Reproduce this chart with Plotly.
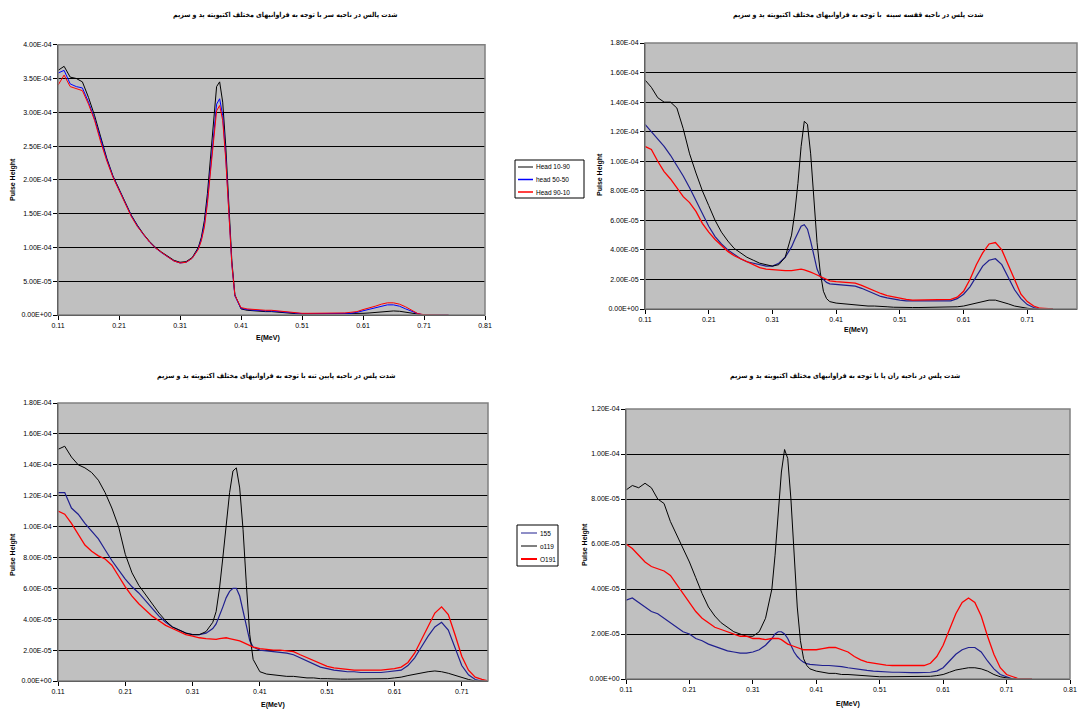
import plotly.graph_objects as go

# Energy axis (MeV)
E = [0.11,0.12,0.13,0.14,0.15,0.16,0.17,0.18,0.19,0.20,
     0.21,0.22,0.23,0.24,0.25,0.26,0.27,0.28,0.29,0.30,
     0.31,0.32,0.33,0.34,0.345,0.35,0.355,0.36,0.365,0.37,
     0.375,0.38,0.385,0.39,0.395,0.40,0.41,0.42,0.43,0.44,
     0.45,0.46,0.47,0.48,0.49,0.50,0.51,0.52,0.53,0.54,
     0.55,0.56,0.57,0.58,0.59,0.60,0.61,0.62,0.63,0.64,
     0.65,0.66,0.67,0.68,0.69,0.70,0.71,0.72,0.73,0.74,0.75]

UNIT = 1e-4  # values below are in units of 1e-4

# Panel 1: head
head_10_90 = [3.62,3.68,3.52,3.50,3.45,3.22,2.95,2.62,2.32,2.06,
              1.86,1.66,1.48,1.33,1.20,1.09,1.00,0.93,0.87,0.81,
              0.78,0.79,0.85,1.00,1.15,1.40,1.80,2.35,2.90,3.38,
              3.45,3.15,2.50,1.60,0.80,0.30,0.09,0.07,0.06,0.06,
              0.05,0.05,0.04,0.03,0.02,0.02,0.015,0.015,0.015,0.015,
              0.015,0.015,0.015,0.015,0.015,0.02,0.025,0.03,0.04,0.05,
              0.055,0.06,0.055,0.04,0.02,0.01,0.0,0.0,0.0,0.0,0.0]
head_50_50 = [3.58,3.62,3.42,3.38,3.36,3.15,2.90,2.58,2.30,2.05,
              1.85,1.65,1.47,1.32,1.19,1.08,0.99,0.92,0.86,0.80,
              0.77,0.78,0.84,0.98,1.12,1.34,1.70,2.20,2.70,3.12,
              3.20,2.95,2.35,1.50,0.75,0.28,0.10,0.08,0.07,0.07,
              0.06,0.06,0.05,0.04,0.03,0.025,0.02,0.02,0.02,0.02,
              0.02,0.02,0.02,0.02,0.025,0.04,0.06,0.08,0.10,0.13,
              0.15,0.15,0.13,0.09,0.05,0.02,0.0,0.0,0.0,0.0,0.0]
head_90_10 = [3.40,3.55,3.38,3.35,3.32,3.12,2.88,2.56,2.28,2.04,
              1.84,1.64,1.46,1.31,1.19,1.08,0.99,0.92,0.86,0.80,
              0.77,0.78,0.84,0.97,1.10,1.30,1.65,2.12,2.60,3.02,
              3.10,2.88,2.30,1.48,0.75,0.29,0.11,0.09,0.08,0.08,
              0.07,0.07,0.06,0.05,0.04,0.03,0.025,0.025,0.025,0.025,
              0.025,0.025,0.025,0.03,0.04,0.05,0.08,0.10,0.13,0.16,
              0.18,0.18,0.16,0.12,0.07,0.02,0.005,0.0,0.0,0.0,0.0]

# Panel 2: chest
chest_155 = [1.25,1.20,1.15,1.10,1.04,0.97,0.90,0.82,0.73,0.64,
             0.56,0.49,0.44,0.40,0.37,0.34,0.32,0.31,0.30,0.29,
             0.29,0.31,0.35,0.42,0.47,0.52,0.56,0.57,0.54,0.46,
             0.36,0.27,0.22,0.20,0.18,0.17,0.165,0.16,0.16,0.155,
             0.14,0.12,0.10,0.085,0.075,0.065,0.06,0.055,0.055,0.05,
             0.05,0.05,0.05,0.05,0.055,0.07,0.10,0.15,0.22,0.29,
             0.33,0.34,0.30,0.22,0.13,0.07,0.03,0.01,0.0,0.0,0.0]
chest_o119 = [1.55,1.50,1.43,1.40,1.40,1.36,1.22,1.05,0.92,0.80,
              0.70,0.60,0.52,0.46,0.41,0.38,0.35,0.33,0.31,0.30,
              0.29,0.30,0.35,0.50,0.65,0.85,1.10,1.27,1.25,1.05,
              0.75,0.45,0.25,0.12,0.07,0.05,0.04,0.035,0.03,0.03,
              0.025,0.02,0.02,0.015,0.015,0.012,0.01,0.01,0.01,0.01,
              0.01,0.01,0.01,0.01,0.012,0.015,0.02,0.03,0.045,0.055,
              0.06,0.06,0.05,0.035,0.02,0.01,0.005,0.0,0.0,0.0,0.0]
chest_O191 = [1.10,1.08,1.00,0.93,0.88,0.82,0.76,0.72,0.66,0.58,
              0.52,0.47,0.43,0.39,0.36,0.34,0.32,0.30,0.28,0.27,
              0.265,0.26,0.26,0.26,0.265,0.27,0.27,0.265,0.26,0.25,
              0.24,0.23,0.22,0.21,0.20,0.19,0.185,0.18,0.18,0.175,
              0.16,0.14,0.12,0.105,0.09,0.08,0.07,0.065,0.06,0.06,
              0.06,0.06,0.06,0.06,0.065,0.08,0.12,0.20,0.30,0.38,
              0.44,0.45,0.40,0.30,0.20,0.10,0.05,0.02,0.005,0.0,0.0]

# Panel 3: lower body
lower_155 = [1.22,1.22,1.12,1.08,1.02,0.97,0.92,0.85,0.78,0.72,
             0.66,0.61,0.57,0.52,0.47,0.42,0.38,0.35,0.33,0.31,
             0.30,0.30,0.31,0.34,0.37,0.42,0.48,0.54,0.58,0.60,
             0.60,0.55,0.45,0.34,0.26,0.22,0.20,0.195,0.19,0.185,
             0.18,0.17,0.15,0.13,0.11,0.09,0.08,0.07,0.065,0.06,
             0.06,0.055,0.055,0.055,0.055,0.06,0.065,0.07,0.10,0.15,
             0.22,0.29,0.35,0.38,0.33,0.22,0.10,0.04,0.01,0.0,0.0]
lower_o119 = [1.50,1.52,1.45,1.40,1.38,1.35,1.30,1.22,1.12,1.00,
              0.82,0.70,0.62,0.56,0.50,0.44,0.39,0.35,0.33,0.31,
              0.30,0.30,0.32,0.38,0.45,0.60,0.80,1.02,1.22,1.36,
              1.38,1.25,0.98,0.62,0.30,0.14,0.06,0.045,0.04,0.035,
              0.03,0.03,0.025,0.02,0.02,0.015,0.015,0.012,0.012,0.012,
              0.012,0.012,0.012,0.012,0.012,0.015,0.02,0.025,0.035,0.045,
              0.055,0.06,0.065,0.06,0.05,0.035,0.02,0.01,0.0,0.0,0.0]
lower_O191 = [1.10,1.08,1.02,0.95,0.88,0.84,0.81,0.79,0.75,0.68,
              0.61,0.55,0.50,0.46,0.42,0.39,0.36,0.34,0.32,0.30,
              0.29,0.28,0.275,0.27,0.27,0.275,0.28,0.28,0.275,0.27,
              0.265,0.26,0.25,0.24,0.23,0.22,0.21,0.205,0.20,0.20,
              0.195,0.19,0.17,0.15,0.13,0.11,0.095,0.085,0.08,0.075,
              0.07,0.07,0.07,0.07,0.07,0.075,0.08,0.09,0.12,0.18,
              0.27,0.36,0.44,0.48,0.43,0.30,0.16,0.07,0.025,0.01,0.0]

# Panel 4: thigh
thigh_155 = [0.35,0.36,0.34,0.32,0.30,0.29,0.27,0.25,0.23,0.21,
             0.20,0.18,0.17,0.155,0.145,0.135,0.125,0.12,0.115,0.115,
             0.12,0.13,0.15,0.18,0.20,0.21,0.21,0.20,0.18,0.15,
             0.12,0.10,0.085,0.075,0.068,0.065,0.062,0.06,0.06,0.058,
             0.055,0.05,0.045,0.04,0.038,0.035,0.033,0.03,0.03,0.03,
             0.028,0.028,0.028,0.028,0.03,0.035,0.05,0.08,0.11,0.13,
             0.14,0.14,0.12,0.08,0.045,0.02,0.01,0.0,0.0,0.0,0.0]
thigh_o119 = [0.84,0.86,0.85,0.87,0.85,0.80,0.78,0.70,0.64,0.58,
              0.52,0.45,0.38,0.32,0.28,0.25,0.23,0.21,0.20,0.19,
              0.19,0.21,0.27,0.40,0.55,0.74,0.92,1.02,0.98,0.80,
              0.55,0.32,0.17,0.09,0.06,0.045,0.035,0.03,0.025,0.025,
              0.02,0.02,0.018,0.015,0.012,0.01,0.01,0.01,0.01,0.01,
              0.01,0.01,0.01,0.01,0.012,0.015,0.02,0.03,0.04,0.045,
              0.05,0.05,0.045,0.035,0.02,0.01,0.005,0.0,0.0,0.0,0.0]
thigh_O191 = [0.60,0.58,0.55,0.52,0.50,0.49,0.48,0.46,0.42,0.38,
              0.34,0.30,0.27,0.25,0.23,0.22,0.21,0.20,0.19,0.19,
              0.18,0.18,0.175,0.18,0.18,0.18,0.175,0.165,0.155,0.15,
              0.145,0.14,0.135,0.13,0.13,0.13,0.13,0.135,0.14,0.14,
              0.13,0.12,0.10,0.085,0.075,0.07,0.065,0.062,0.06,0.06,
              0.058,0.058,0.058,0.06,0.07,0.10,0.15,0.22,0.29,0.34,
              0.36,0.34,0.28,0.19,0.11,0.05,0.02,0.01,0.0,0.0,0.0]

titles = ["شدت پالس در ناحیه سر با توجه به فراوانیهای مختلف اکتیویته ید و سزیم",
          "شدت پلس در ناحیه قفسه سینه  با توجه به فراوانیهای مختلف اکتیویته ید و سزیم",
          "شدت پلس در ناحیه پایین تنه با توجه به فراوانیهای مختلف اکتیویته ید و سزیم",
          "شدت پلس در ناحیه ران پا با توجه به فراوانیهای مختلف اکتیویته ید و سزیم"]
head_names = ["Head 10-90", "head 50-50", "Head 90-10"]
body_names = ["155", "o119", "O191"]
x_ticks = [0.11, 0.21, 0.31, 0.41, 0.51, 0.61, 0.71, 0.81]
x_ticklabels = ["0.11", "0.21", "0.31", "0.41", "0.51", "0.61", "0.71", "0.81"]
y1_ticks = [0, 5e-5, 1e-4, 1.5e-4, 2e-4, 2.5e-4, 3e-4, 3.5e-4, 4e-4]
y1_ticklabels = ["0.00E+00", "5.00E-05", "1.00E-04", "1.50E-04", "2.00E-04",
                 "2.50E-04", "3.00E-04", "3.50E-04", "4.00E-04"]
y2_ticks = [0, 2e-5, 4e-5, 6e-5, 8e-5, 1e-4, 1.2e-4, 1.4e-4, 1.6e-4, 1.8e-4]
y2_ticklabels = ["0.00E+00", "2.00E-05", "4.00E-05", "6.00E-05", "8.00E-05",
                 "1.00E-04", "1.20E-04", "1.40E-04", "1.60E-04", "1.80E-04"]
y4_ticks = [0, 2e-5, 4e-5, 6e-5, 8e-5, 1e-4, 1.2e-4]
y4_ticklabels = ["0.00E+00", "2.00E-05", "4.00E-05", "6.00E-05", "8.00E-05",
                 "1.00E-04", "1.20E-04"]

W, H = 1082, 713
FONT = "Arial, Liberation Sans, DejaVu Sans, sans-serif"
TFONT = "DejaVu Sans Condensed, DejaVu Sans, sans-serif"
NAVY = "#1f1f8f"
HEAD_COLS = ["#000000", "#0000ff", "#ff0000"]
BODY_COLS = [NAVY, "#000000", "#ff0000"]

def sc(v):
    return [a * UNIT for a in v]

fig = go.Figure()

# panel 1
for name, data, col in zip(head_names, [head_10_90, head_50_50, head_90_10], HEAD_COLS):
    fig.add_trace(go.Scatter(x=E, y=sc(data), mode="lines", name=name,
                             line=dict(color=col, width=1), xaxis="x", yaxis="y",
                             showlegend=False))
# panels 2-4
panel_sets = [
    ("x2", "y2", [chest_155, chest_o119, chest_O191]),
    ("x3", "y3", [lower_155, lower_o119, lower_O191]),
    ("x4", "y4", [thigh_155, thigh_o119, thigh_O191]),
]
for xa, ya, series in panel_sets:
    for name, data, col, w in zip(body_names, series, BODY_COLS, [1.2, 1, 1.3]):
        fig.add_trace(go.Scatter(x=E, y=sc(data), mode="lines", name=name,
                                 line=dict(color=col, width=w), xaxis=xa, yaxis=ya,
                                 showlegend=False))

def px_dom_x(a, b):
    return [a / W, b / W]

def px_dom_y(top, bottom):
    return [1 - bottom / H, 1 - top / H]

doms = {
    1: (px_dom_x(58, 485), px_dom_y(44.7, 315), [0.11, 0.81], 4e-4, y1_ticks, y1_ticklabels),
    2: (px_dom_x(645, 1077), px_dom_y(43, 309), [0.11, 0.788], 1.8e-4, y2_ticks, y2_ticklabels),
    3: (px_dom_x(58, 488), px_dom_y(403, 681), [0.11, 0.749], 1.8e-4, y2_ticks, y2_ticklabels),
    4: (px_dom_x(626, 1070), px_dom_y(409, 679), [0.11, 0.81], 1.2e-4, y4_ticks, y4_ticklabels),
}

tickfont = dict(family=FONT, size=7, color="#000000")
layout_axes = {}
shapes = []
for i, (dx, dy, xr, ymax, yt, ytl) in doms.items():
    sfx = "" if i == 1 else str(i)
    layout_axes["xaxis" + sfx] = dict(
        domain=dx, range=xr, anchor="y" + sfx, tickmode="array", automargin=False,
        tickvals=x_ticks, ticktext=x_ticklabels, showgrid=False, zeroline=False,
        showline=True, linecolor="#000000", linewidth=1, ticks="outside",
        ticklen=4, tickcolor="#000000", tickfont=tickfont)
    layout_axes["yaxis" + sfx] = dict(
        domain=dy, range=[0, ymax], anchor="x" + sfx, tickmode="array", automargin=False,
        tickvals=yt, ticktext=ytl, showgrid=True, gridcolor="#000000",
        gridwidth=1, zeroline=False, showline=True, linecolor="#000000",
        linewidth=1, ticks="outside", ticklen=4, tickcolor="#000000",
        tickfont=tickfont)
    shapes.append(dict(type="rect", xref="x%s domain" % sfx, yref="y%s domain" % sfx,
                       x0=0, x1=1, y0=0, y1=1, line=dict(color="#808080", width=1.5),
                       fillcolor="rgba(0,0,0,0)", layer="above"))

ann = []
def text(xp, yp, t, size=7, angle=0, xanchor="center", family=FONT):
    ann.append(dict(x=xp / W, y=1 - yp / H, xref="paper", yref="paper", text=t,
                    showarrow=False, textangle=angle, xanchor=xanchor, yanchor="middle",
                    font=dict(family=family, size=size, color="#000000")))

text(285, 15, "<b>" + titles[0] + "</b>", 7, family=TFONT)
text(858, 15, "<b>" + titles[1] + "</b>", 7, family=TFONT)
text(276, 376, "<b>" + titles[2] + "</b>", 7, family=TFONT)
text(845, 376, "<b>" + titles[3] + "</b>", 7, family=TFONT)
text(13, 180, "<b>Pulse Height</b>", 7, -90)
text(600, 175, "<b>Pulse Height</b>", 7, -90)
text(13, 555, "<b>Pulse Height</b>", 7, -90)
text(585, 545, "<b>Pulse Height</b>", 7, -90)
text(268, 338, "<b>E(MeV)</b>", 7)
text(856, 330, "<b>E(MeV)</b>", 7)
text(273, 705, "<b>E(MeV)</b>", 7)
text(848, 704, "<b>E(MeV)</b>", 7)

# legends (boxes with sample lines and labels)
def legend_box(x0, y0, x1, y1, rows, names, cols, widths, lx0, lx1):
    shapes.append(dict(type="rect", xref="paper", yref="paper",
                       x0=x0 / W, x1=x1 / W, y0=1 - y1 / H, y1=1 - y0 / H,
                       line=dict(color="#000000", width=1), fillcolor="#ffffff",
                       layer="above"))
    for yy, nm, cl, wd in zip(rows, names, cols, widths):
        shapes.append(dict(type="line", xref="paper", yref="paper",
                           x0=lx0 / W, x1=lx1 / W, y0=1 - yy / H, y1=1 - yy / H,
                           line=dict(color=cl, width=wd), layer="above"))
        text(lx1 + 1, yy, nm, 6.5, 0, "left")

legend_box(515, 160, 584, 198, [167, 179.5, 192], head_names, HEAD_COLS, [1, 1.5, 1.5], 518, 533)
legend_box(517, 525, 558, 566, [533, 546, 559], body_names, BODY_COLS, [1, 1, 2], 521, 537)

fig.update_layout(
    width=W, height=H, margin=dict(l=0, r=0, t=0, b=0),
    paper_bgcolor="#ffffff", plot_bgcolor="#c0c0c0",
    shapes=shapes, annotations=ann, showlegend=False,
    **layout_axes,
)

fig.write_html("out.html", config={"displayModeBar": False},
               post_script="document.body.style.margin='0';document.body.style.padding='0';")
